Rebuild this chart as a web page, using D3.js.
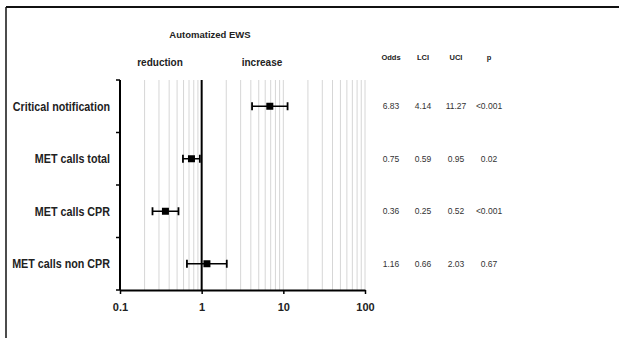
<!DOCTYPE html>
<html>
<head>
<meta charset="utf-8">
<script src="https://cdn.jsdelivr.net/npm/d3@7"></script>
<style>
  body { margin: 0; background: #fff; }
  svg { font-family: "Liberation Sans", Arial, sans-serif; display: block; }
</style>
</head>
<body>
<div id="chart"></div>
<script>
const categories = ["Critical notification", "MET calls total", "MET calls CPR", "MET calls non CPR"];
const odds = [6.83, 0.75, 0.36, 1.16];
const lci = [4.14, 0.59, 0.25, 0.66];
const uci = [11.27, 0.95, 0.52, 2.03];
const pvals = ["<0.001", "0.02", "<0.001", "0.67"];
const tickValues = [0.1, 1, 10, 100];
const columns = ["Odds", "LCI", "UCI", "p"];

const W = 619, H = 338;
const margin = { top: 80, left: 120, right: 254, bottom: 48 };
const plotW = W - margin.left - margin.right,
  plotH = H - margin.top - margin.bottom;

const svg = d3.select("#chart").append("svg")
  .attr("width", W).attr("height", H);

// frame (top and left edges)
svg.append("line").attr("x1", 6).attr("x2", W).attr("y1", 7).attr("y2", 7)
  .attr("stroke", "#111").attr("stroke-width", 2);
svg.append("line").attr("x1", 6).attr("x2", 6).attr("y1", 7).attr("y2", H)
  .attr("stroke", "#111").attr("stroke-width", 1.5);

const g = svg.append("g").attr("transform", `translate(${margin.left},${margin.top})`);

const x = d3.scaleLog().domain([0.1, 100]).range([0, plotW]);
const y = d3.scaleBand().domain(categories).range([0, plotH]);

// minor grid
const gridVals = [];
[0.1, 1, 10].forEach(d => { for (let k = 2; k <= 10; k++) gridVals.push(d * k); });
g.selectAll(".grid").data(gridVals.filter(v => v !== 1))
  .join("line")
  .attr("x1", d => x(d)).attr("x2", d => x(d))
  .attr("y1", 0).attr("y2", plotH)
  .attr("stroke", "#d6d6d6").attr("stroke-width", 1);

// reference line at 1
g.append("line").attr("x1", x(1)).attr("x2", x(1)).attr("y1", 0).attr("y2", plotH)
  .attr("stroke", "#000").attr("stroke-width", 2);

// x axis
const xAxis = g.append("g").attr("transform", `translate(0,${plotH})`)
  .call(d3.axisBottom(x).tickValues(tickValues).tickFormat(d3.format("")).tickSize(4).tickSizeOuter(0));
xAxis.select(".domain").attr("stroke", "#000").attr("stroke-width", 2);
xAxis.selectAll(".tick line").attr("stroke", "#000").attr("stroke-width", 1.5);
xAxis.selectAll("text").attr("font-size", 11).attr("font-weight", "bold").attr("fill", "#222").attr("dy", "1.25em");

// y axis with ticks at band boundaries
g.append("line").attr("x1", 0).attr("x2", 0).attr("y1", 0).attr("y2", plotH)
  .attr("stroke", "#000").attr("stroke-width", 2);
const bounds = categories.map(c => y(c)).concat([plotH]);
g.selectAll(".ytick").data(bounds).join("line")
  .attr("x1", -4).attr("x2", 0).attr("y1", d => d).attr("y2", d => d)
  .attr("stroke", "#000").attr("stroke-width", 1.5);

// category labels (horizontally condensed like the original)
g.selectAll(".cat").data(categories).join("g")
  .attr("class", "cat")
  .attr("transform", d => `translate(-10,${y(d) + y.bandwidth() / 2}) scale(0.86,1)`)
  .append("text")
  .attr("dy", "0.35em").attr("text-anchor", "end")
  .attr("font-size", 12.5).attr("font-weight", "bold").attr("fill", "#222")
  .text(d => d);

// error bars
const rows = categories.map((c, i) => ({ c, o: odds[i], l: lci[i], u: uci[i] }));
const cap = 4;
const er = g.selectAll(".err").data(rows).join("g")
  .attr("transform", d => `translate(0,${y(d.c) + y.bandwidth() / 2})`);
er.append("line").attr("x1", d => x(d.l)).attr("x2", d => x(d.u))
  .attr("stroke", "#000").attr("stroke-width", 1.5);
er.append("line").attr("x1", d => x(d.l)).attr("x2", d => x(d.l)).attr("y1", -cap).attr("y2", cap)
  .attr("stroke", "#000").attr("stroke-width", 1.8);
er.append("line").attr("x1", d => x(d.u)).attr("x2", d => x(d.u)).attr("y1", -cap).attr("y2", cap)
  .attr("stroke", "#000").attr("stroke-width", 1.8);
er.append("rect").attr("x", d => x(d.o) - 3.5).attr("y", -3.5)
  .attr("width", 7).attr("height", 7).attr("fill", "#000");

// headings
svg.append("text").attr("x", 210).attr("y", 38).attr("text-anchor", "middle")
  .attr("font-size", 9.5).attr("font-weight", "bold").attr("fill", "#222").text("Automatized EWS");
svg.append("text").attr("x", 160).attr("y", 66).attr("text-anchor", "middle")
  .attr("font-size", 10).attr("font-weight", "bold").attr("fill", "#222").text("reduction");
svg.append("text").attr("x", 262).attr("y", 66).attr("text-anchor", "middle")
  .attr("font-size", 10).attr("font-weight", "bold").attr("fill", "#222").text("increase");

// table
const colX = [391, 423, 456, 489];
svg.selectAll(".colh").data(columns).join("text")
  .attr("x", (d, i) => colX[i]).attr("y", 60).attr("text-anchor", "middle")
  .attr("font-size", 7.5).attr("font-weight", "bold").attr("fill", "#222").text(d => d);

const fmt = d3.format(".2f");
const table = rows.map((r, i) => [fmt(r.o), fmt(r.l), fmt(r.u), pvals[i]]);
table.forEach((vals, i) => {
  svg.selectAll(".row" + i).data(vals).join("text")
    .attr("x", (d, j) => colX[j])
    .attr("y", margin.top + y(categories[i]) + y.bandwidth() / 2)
    .attr("dy", "0.35em").attr("text-anchor", "middle")
    .attr("font-size", 8.5).attr("fill", "#333").text(d => d);
});
</script>
</body>
</html>
